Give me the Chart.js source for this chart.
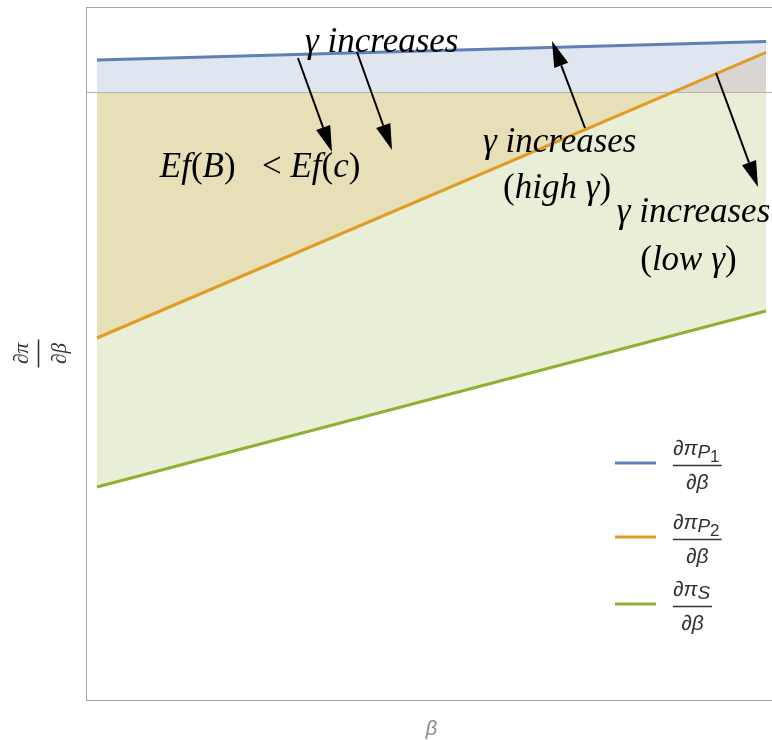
<!DOCTYPE html>
<html>
<head>
<meta charset="utf-8">
<script src="https://cdn.jsdelivr.net/npm/chart.js@4.4.1/dist/chart.umd.min.js"></script>
<style>
  html, body { margin: 0; padding: 0; background: #ffffff; overflow: hidden; }
  canvas { display: block; }
</style>
</head>
<body>
<canvas id="chart" width="790" height="740"></canvas>
<script>
// β values (normalised range) and the three marginal-profit lines
const betaValues = [0, 1];
const dPiP1 = [0.32, 0.505];
const dPiP2 = [-2.46, 0.397];
const dPiS  = [-3.95, -2.19];

// legend subscripts: numerator is ∂π_{sub}, denominator ∂β
const legendSubs = [['P', '1'], ['P', '2'], ['S']];

const lineColors = ['#5E81B5', '#E19C24', '#8FB032'];
const fillColors = ['rgba(94,129,181,0.2)', 'rgba(215,156,60,0.2)', 'rgba(143,176,50,0.2)'];

// annotation texts: runs of [text, italic?], anchored at (β, value) of the left baseline
const notes = [
  { x: 0.311, y: 0.40,  runs: [['γ increases', true]] },
  { x: 0.094, y: -0.85, runs: [['Ef', true], ['(', false], ['B', true], [')', false], ['   <', false], [' ', false], ['Ef', true], ['(', false], ['c', true], [')', false]] },
  { x: 0.577, y: -0.60, runs: [['γ increases', true]] },
  { x: 0.607, y: -1.06, runs: [['(', false], ['high γ', true], [')', false]] },
  { x: 0.777, y: -1.30, runs: [['γ increases', true]] },
  { x: 0.812, y: -1.78, runs: [['(', false], ['low γ', true], [')', false]] }
];

// arrows: from (x0, y0) to tip (x1, y1), in data units
const arrows = [
  [0.3004, 0.34, 0.3513, -0.60],
  [0.3886, 0.40, 0.4410, -0.58],
  [0.7294, -0.36, 0.6801, 0.51],
  [0.9253, 0.19, 0.9880, -0.95]
];

function pts(ys) { return betaValues.map((b, i) => ({ x: b, y: ys[i] })); }

const serif = '"Liberation Serif", "Times New Roman", serif';
const sans = '"Liberation Sans", Arial, sans-serif';

const decorations = {
  id: 'decorations',
  beforeDatasetsDraw(chart) {
    // horizontal axis at zero
    const { ctx, chartArea: a, scales: { y } } = chart;
    const y0 = Math.round(y.getPixelForValue(0)) + 0.5;
    ctx.save();
    ctx.strokeStyle = '#b4b4b4';
    ctx.lineWidth = 1;
    ctx.beginPath();
    ctx.moveTo(a.left, y0);
    ctx.lineTo(a.right, y0);
    ctx.stroke();
    ctx.restore();
  },
  afterDatasetsDraw(chart) {
    const { ctx, scales: { x, y } } = chart;
    ctx.save();
    // arrows
    ctx.strokeStyle = '#000';
    ctx.fillStyle = '#000';
    arrows.forEach(([x0, y0, x1, y1]) => {
      const px0 = x.getPixelForValue(x0), py0 = y.getPixelForValue(y0);
      const px1 = x.getPixelForValue(x1), py1 = y.getPixelForValue(y1);
      const ang = Math.atan2(py1 - py0, px1 - px0);
      const hl = 26, hw = 7.5;
      const bx = px1 - hl * Math.cos(ang), by = py1 - hl * Math.sin(ang);
      ctx.lineWidth = 2;
      ctx.beginPath();
      ctx.moveTo(px0, py0);
      ctx.lineTo(bx, by);
      ctx.stroke();
      ctx.beginPath();
      ctx.moveTo(px1, py1);
      ctx.lineTo(bx + hw * Math.sin(ang), by - hw * Math.cos(ang));
      ctx.lineTo(bx - hw * Math.sin(ang), by + hw * Math.cos(ang));
      ctx.closePath();
      ctx.fill();
    });
    // annotation texts
    ctx.textBaseline = 'alphabetic';
    ctx.textAlign = 'left';
    notes.forEach(n => {
      let px = x.getPixelForValue(n.x);
      const py = y.getPixelForValue(n.y);
      n.runs.forEach(([t, it]) => {
        ctx.font = (it ? 'italic ' : '') + '35px ' + serif;
        ctx.fillText(t, px, py);
        px += ctx.measureText(t).width;
      });
    });
    ctx.restore();
  },
  afterDraw(chart) {
    const { ctx, chartArea: a } = chart;
    ctx.save();
    // frame
    ctx.strokeStyle = '#a6a6a6';
    ctx.lineWidth = 1;
    ctx.strokeRect(a.left + 0.5, a.top + 0.5, a.right - a.left, a.bottom - a.top);

    // legend
    const legendY = [463, 537, 604];
    const lx = a.right - 162;
    legendSubs.forEach((sub, i) => {
      const ly = legendY[i];
      ctx.strokeStyle = lineColors[i];
      ctx.lineWidth = 3;
      ctx.beginPath();
      ctx.moveTo(lx, ly);
      ctx.lineTo(lx + 41, ly);
      ctx.stroke();

      const fx = lx + 58;
      const barY = ly + 2.5;
      ctx.fillStyle = '#333';
      ctx.textAlign = 'left';
      ctx.textBaseline = 'alphabetic';
      let px = fx;
      ctx.font = 'italic 21px ' + sans;
      ctx.fillText('∂π', px, barY - 11);
      px += ctx.measureText('∂π').width;
      ctx.font = 'italic 19px ' + sans;
      ctx.fillText(sub[0], px, barY - 8);
      px += ctx.measureText(sub[0]).width;
      if (sub[1]) {
        ctx.font = '17px ' + sans;
        ctx.fillText(sub[1], px, barY - 4);
        px += ctx.measureText(sub[1]).width;
      }
      const w = px - fx + 2;
      ctx.strokeStyle = '#333';
      ctx.lineWidth = 1.6;
      ctx.beginPath();
      ctx.moveTo(fx, barY);
      ctx.lineTo(fx + w, barY);
      ctx.stroke();
      ctx.font = 'italic 21px ' + sans;
      ctx.textAlign = 'center';
      ctx.fillText('∂β', fx + w / 2, barY + 23);
    });

    // x-axis title
    ctx.fillStyle = '#8a8a8a';
    ctx.font = 'italic 20px ' + sans;
    ctx.textAlign = 'center';
    ctx.fillText('β', (a.left + a.right) / 2, 735);

    // y-axis title, rotated fraction
    ctx.translate(38, (a.top + a.bottom) / 2);
    ctx.rotate(-Math.PI / 2);
    ctx.fillStyle = '#333';
    ctx.strokeStyle = '#333';
    ctx.font = 'italic 21px ' + serif;
    ctx.textAlign = 'center';
    ctx.fillText('∂π', 0, -10);
    ctx.fillText('∂β', 0, 28);
    ctx.lineWidth = 1.6;
    ctx.beginPath();
    ctx.moveTo(-14, 0.5);
    ctx.lineTo(14, 0.5);
    ctx.stroke();
    ctx.restore();
  }
};

new Chart(document.getElementById('chart'), {
  type: 'line',
  data: {
    datasets: [
      { label: '∂π_P1/∂β', data: pts(dPiP1), borderColor: lineColors[0], backgroundColor: fillColors[0], fill: 'origin' },
      { label: '∂π_P2/∂β', data: pts(dPiP2), borderColor: lineColors[1], backgroundColor: fillColors[1], fill: 'origin' },
      { label: '∂π_S/∂β',  data: pts(dPiS),  borderColor: lineColors[2], backgroundColor: fillColors[2], fill: 'origin' }
    ]
  },
  options: {
    responsive: false,
    animation: false,
    devicePixelRatio: 1,
    layout: { padding: { left: 86, top: 7, right: 13, bottom: 40 } },
    elements: {
      line: { borderWidth: 3, tension: 0 },
      point: { radius: 0 }
    },
    scales: {
      x: { type: 'linear', min: -0.0164, max: 1.0164, display: false },
      y: { type: 'linear', min: -6.08, max: 0.85, display: false }
    },
    plugins: {
      legend: { display: false },
      tooltip: { enabled: false },
      filler: { drawTime: 'beforeDatasetsDraw' }
    }
  },
  plugins: [decorations]
});
</script>
</body>
</html>
